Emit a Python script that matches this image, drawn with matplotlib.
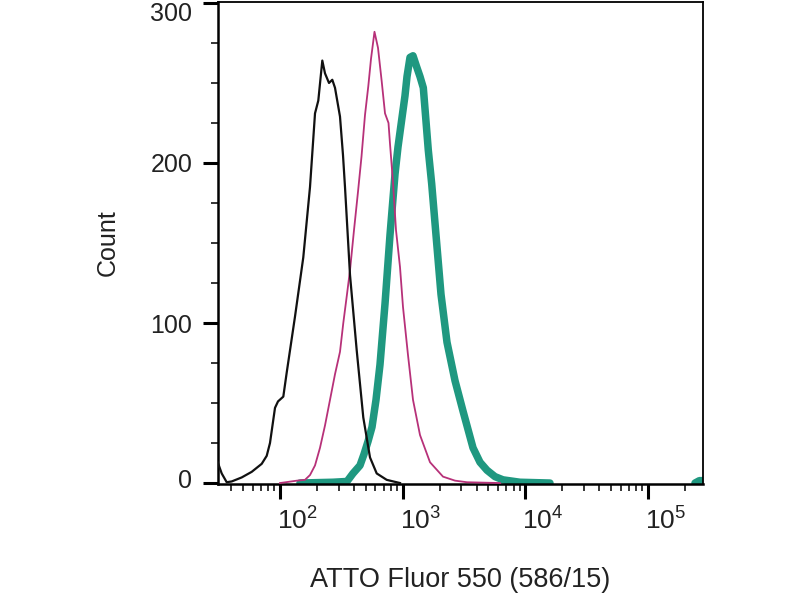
import numpy as np
import matplotlib
matplotlib.use("Agg")
import matplotlib.pyplot as plt
from matplotlib.ticker import FixedLocator, LogLocator, NullFormatter, MultipleLocator
import matplotlib.transforms as mtransforms

plt.rcParams['font.family'] = ['Liberation Sans', 'DejaVu Sans']
plt.rcParams['mathtext.fontset'] = 'custom'
plt.rcParams['mathtext.rm'] = 'Liberation Sans'

# ---- data (fluorescence intensity, count) ----
black_x = [31.07, 33.49, 36.78, 40.41, 48.73, 58.81, 70.94, 77.93, 82.87, 91.05,
           96.32, 106.4, 113.4, 132.5, 154.8, 175.6, 192.9, 205.2, 221.2, 232.7,
           250.8, 266.8, 280.7, 308.3, 326.1, 338.6, 372.0, 421.8, 477.3, 541.4,
           614.0, 740.7, 838.0, 950.6]
black_y = [13, 6, 0.5, 1, 3.5, 7, 12, 17, 25, 47,
           51, 54, 69, 104, 141, 185, 231, 239, 264, 256,
           250, 252, 247, 229, 205, 185, 130, 83, 41, 16,
           6, 2, 1, 0]

magenta_x = [100, 137.5, 159.8, 175.6, 192.9, 211.8, 232.7, 255.6, 280.7, 308.3,
             328.0, 351.6, 372.0, 400.9, 432.2, 461.6, 492.9, 524.4, 551.6, 589.0,
             629.0, 674.4, 717.5, 766.2, 788.0, 833.4, 881.9, 950.6, 1005.6, 1104.5,
             1213.3, 1383.6, 1669.3, 2130.7, 2668.6, 3341.6, 6208]
magenta_y = [0, 1.5, 2, 5, 11, 22, 36, 52, 68, 82,
             100, 118, 133, 158, 182, 204, 230, 248, 265, 282,
             272, 251, 231, 225, 212, 188, 158, 135, 110, 80,
             52, 30, 13, 4, 1.5, 0.5, 0]

teal_x = [145.5, 270.3, 351.6, 393.4, 448.7, 483.6, 521.5, 562.2, 606.0, 653.1,
          717.5, 788.0, 865.6, 915.6, 981.5, 1043.9, 1084.2, 1147.1, 1213.3, 1300.6,
          1383.6, 1472.2, 1548.6, 1616.7, 1723.1, 1868.1, 2051.7, 2296.1, 2668.6, 3100.4,
          3741.4, 4266.2, 4864.3, 5653.6, 6569.3, 9036.0, 15864,
          np.nan, 241100, 262000, 280200]
teal_y = [0, 0.5, 1, 6, 11, 18, 26, 35, 52, 74,
          112, 155, 193, 210, 227, 242, 254, 266, 267, 260,
          254, 247, 226, 208, 187, 155, 118, 88, 64, 45,
          22, 13, 8, 4, 2, 0.5, 0,
          np.nan, 0, 1.5, 1.5]

x_ticks = [1e2, 1e3, 1e4, 1e5]
x_tick_labels = [r'$\mathregular{10^{2}}$', r'$\mathregular{10^{3}}$',
                 r'$\mathregular{10^{4}}$', r'$\mathregular{10^{5}}$']
y_ticks = [0, 100, 200, 300]
y_tick_labels = ['0', '100', '200', '300']

# ---- figure ----
fig = plt.figure(figsize=(8, 6), dpi=100)
ax = fig.add_axes([218/800, 1-484/600, (703-218)/800, (484-2)/600])

ax.plot(teal_x, teal_y, color='#1f9880', lw=5.4, solid_joinstyle='round',
        solid_capstyle='round', zorder=2)
ax.plot(magenta_x, magenta_y, color='#b73179', lw=1.3, zorder=3)
ax.plot(black_x, black_y, color='#111111', lw=1.6, zorder=4)

ax.set_xscale('log')
ax.set_xlim(31.24, 280200)
ax.set_ylim(-0.6, 300.6)

ax.xaxis.set_major_locator(FixedLocator(x_ticks))
ax.set_xticklabels(x_tick_labels)
ax.xaxis.set_minor_locator(LogLocator(base=10, subs=np.arange(2, 10), numticks=20))
ax.xaxis.set_minor_formatter(NullFormatter())

ax.yaxis.set_major_locator(FixedLocator(y_ticks))
ax.set_yticklabels(y_tick_labels)
ax.yaxis.set_minor_locator(MultipleLocator(25))

ax.tick_params(axis='both', which='major', direction='out', length=10.5, width=2.2,
               color='black', labelcolor='#222222')
ax.tick_params(axis='both', which='minor', direction='out', length=5, width=1.1,
               color='black')
ax.tick_params(axis='x', which='major', pad=6, labelsize=19)
ax.tick_params(axis='y', which='major', pad=8, labelsize=18)
ax.tick_params(top=False, right=False, which='both')

for lab in ax.get_xticklabels():
    lab.set_horizontalalignment('left')
    lab.set_transform(lab.get_transform() +
                      mtransforms.ScaledTranslation(-3/100, 0, fig.dpi_scale_trans))

ylabs = ax.get_yticklabels()
ylabs[0].set_transform(ylabs[0].get_transform() +
                       mtransforms.ScaledTranslation(0, 5/100, fig.dpi_scale_trans))
ylabs[-1].set_transform(ylabs[-1].get_transform() +
                        mtransforms.ScaledTranslation(0, -9/100, fig.dpi_scale_trans))

for s in ['left', 'bottom']:
    ax.spines[s].set_linewidth(1.8)
for s in ['top', 'right']:
    ax.spines[s].set_linewidth(1.3)

ax.set_xlabel('ATTO Fluor 550 (586/15)', fontsize=19.5, color='#222222', labelpad=24)
ax.set_ylabel('Count', fontsize=18, color='#222222', labelpad=22)

fig.savefig('out.png', dpi=100)
